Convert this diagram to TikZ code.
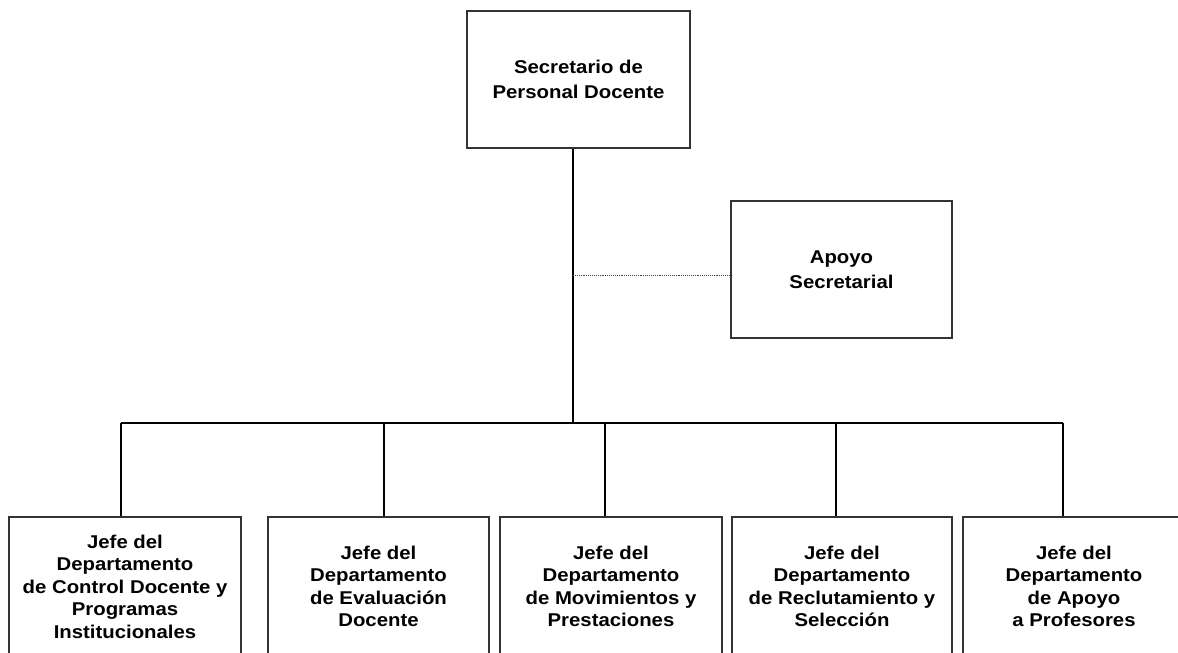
\documentclass[tikz,border=0pt]{standalone}
\usepackage{fontspec}
\setmainfont{Liberation Sans}[FakeStretch=1.1]
\begin{document}
\begin{tikzpicture}[x=1pt,y=-1pt,
  unitbox/.style={draw=black!80,line width=1.8pt,fill=white,rectangle,inner sep=0pt,
    align=center,font=\bfseries\fontsize{18.5}{22.5}\selectfont},
  headbox/.style={unitbox,font=\bfseries\fontsize{18.5}{25}\selectfont},
  link/.style={draw=black,line width=1.4pt},
  aux/.style={draw=black!75,line width=0.9pt,densely dotted}]
\useasboundingbox (0,0) rectangle (1178,653);
\clip (0,0) rectangle (1178,653);

% head of the unit and its support staff
\node[headbox,minimum width=223pt,minimum height=137pt] (head) at (578.5,79.5)
  {Secretario de\\Personal Docente};
\node[headbox,minimum width=221pt,minimum height=137pt] (apoyo) at (841.5,269.5)
  {Apoyo\\Secretarial};

% department heads
\node[unitbox,minimum width=232pt,minimum height=139pt] (d1) at (125,586.5)
  {Jefe del\\Departamento\\de Control Docente y\\Programas\\Institucionales};
\node[unitbox,minimum width=221pt,minimum height=139pt] (d2) at (378.5,586.5)
  {Jefe del\\Departamento\\de Evaluación\\Docente};
\node[unitbox,minimum width=222pt,minimum height=139pt] (d3) at (611,586.5)
  {Jefe del\\Departamento\\de Movimientos y\\Prestaciones};
\node[unitbox,minimum width=220pt,minimum height=139pt] (d4) at (842,586.5)
  {Jefe del\\Departamento\\de Reclutamiento y\\Selección};
\node[unitbox,minimum width=222pt,minimum height=139pt] (d5) at (1074,586.5)
  {Jefe del\\Departamento\\de Apoyo\\a Profesores};

% junction points on the distribution line
\coordinate (bus) at (573,423);
\coordinate (dot) at (573,275);
\coordinate (j1) at (121,423);
\coordinate (j2) at (384,423);
\coordinate (j3) at (605,423);
\coordinate (j4) at (836,423);
\coordinate (j5) at (1063,423);

% connectors
\draw[link] (bus |- head.south) -- (bus);
\draw[link] (j1) -- (j5);
\draw[link] (j1) -- (j1 |- d1.north);
\draw[link] (j2) -- (j2 |- d2.north);
\draw[link] (j3) -- (j3 |- d3.north);
\draw[link] (j4) -- (j4 |- d4.north);
\draw[link] (j5) -- (j5 |- d5.north);
\draw[aux] (dot) -- (dot -| apoyo.west);
\end{tikzpicture}
\end{document}
